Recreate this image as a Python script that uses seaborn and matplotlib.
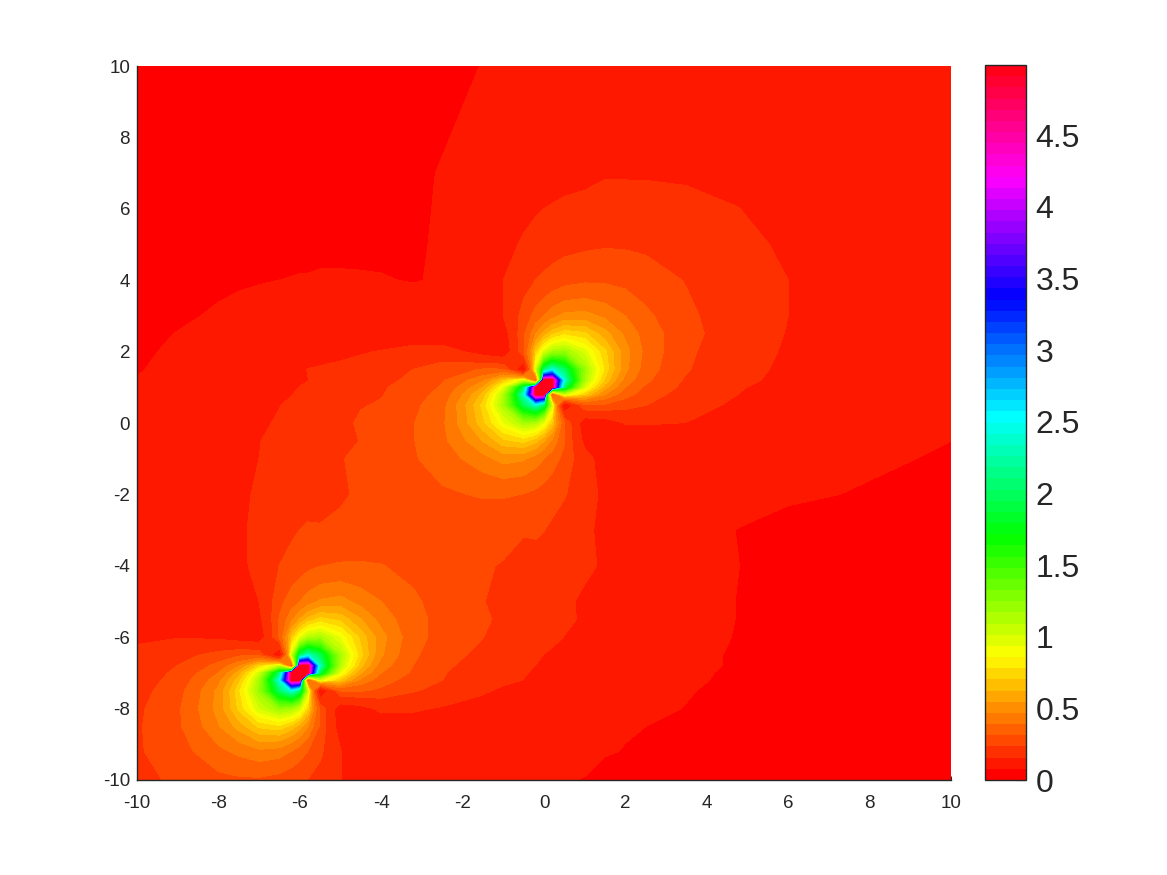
import numpy as np
import matplotlib
matplotlib.use('Agg')
import matplotlib.pyplot as plt
from matplotlib.cm import ScalarMappable
from matplotlib.colors import BoundaryNorm, ListedColormap
import seaborn as sns

# field values estimated by eye at these grid nodes (denser around the two poles)
x_nodes = [-10, -9, -8, -7.5, -7, -6.5, -6.2, -6, -5.8, -5.5, -5, -4.5, -4, -3.2, -2.5, -1.5, -1, -.5, -.2, 0, .2, .5, 1, 1.5, 2, 2.5, 3.5, 4.8, 6, 10]
y_nodes = [-10, -9.2, -8.5, -8, -7.5, -7.2, -7, -6.8, -6.5, -6, -5.5, -5, -4, -3, -2, -1, -.5, 0, .5, .8, 1, 1.2, 1.5, 2, 2.5, 3, 4, 5, 7, 10]
field_values = [
    [.21, .25, .29, .30, .30, .285, .265, .25, .232, .205, .16, .11, .09, .09, .09, .088, .088, .085, .083, .082, .081, .08, .077, .07, .065, .06, .055, .05, .048, .04],
    [.225, .28, .37, .41, .45, .43, .385, .35, .31, .25, .16, .10, .10, .10, .10, .10, .098, .095, .093, .092, .09, .088, .085, .08, .077, .072, .066, .06, .055, .043],
    [.225, .30, .46, .58, .72, .76, .67, .58, .47, .30, .125, .11, .12, .125, .13, .125, .125, .115, .11, .105, .10, .095, .09, .085, .08, .078, .073, .065, .06, .045],
    [.22, .30, .5, .72, 1, 1.2, 1.15, 1, .72, .30, .12, .135, .17, .165, .15, .13, .125, .12, .118, .115, .112, .108, .10, .095, .09, .085, .077, .067, .06, .047],
    [.205, .285, .49, .76, 1.2, 2, 2.41, 2, 1.03, .1, .32, .32, .295, .24, .21, .165, .145, .135, .13, .125, .12, .115, .105, .10, .095, .09, .08, .07, .062, .05],
    [.195, .265, .44, .67, 1.15, 2.41, 4.98, 4.98, .3, .97, .68, .45, .35, .275, .235, .18, .17, .155, .15, .14, .135, .125, .115, .105, .098, .092, .083, .072, .062, .05],
    [.19, .25, .39, .58, 1, 2, 4.98, 4.98, 4.98, 1.9, .92, .55, .39, .30, .24, .19, .175, .16, .15, .145, .14, .13, .12, .11, .10, .095, .085, .072, .063, .05],
    [.18, .235, .34, .46, .72, 1.03, .3, 4.98, 4.98, 2.3, 1.1, .65, .43, .31, .25, .2, .18, .165, .155, .15, .145, .135, .125, .115, .105, .098, .087, .074, .064, .05],
    [.165, .205, .265, .30, .30, .1, 1.0, 1.95, 2.35, 1.95, 1.15, .73, .48, .325, .265, .215, .19, .175, .165, .155, .15, .14, .13, .12, .11, .10, .085, .075, .065, .052],
    [.15, .153, .145, .13, .12, .32, .68, .92, 1.1, 1.15, .92, .68, .5, .34, .285, .235, .21, .19, .175, .17, .165, .155, .14, .125, .12, .105, .09, .076, .066, .055],
    [.125, .12, .12, .125, .14, .32, .45, .55, .65, .73, .68, .55, .44, .335, .29, .245, .22, .2, .185, .18, .175, .165, .15, .135, .125, .11, .09, .077, .067, .056],
    [.11, .11, .125, .13, .156, .29, .35, .39, .43, .48, .5, .44, .39, .325, .28, .235, .225, .205, .19, .185, .18, .165, .148, .135, .125, .115, .09, .077, .068, .058],
    [.105, .115, .13, .145, .17, .235, .265, .275, .295, .31, .32, .32, .315, .29, .26, .24, .23, .21, .205, .2, .195, .175, .165, .15, .135, .12, .095, .078, .069, .058],
    [.105, .115, .13, .15, .165, .2, .22, .235, .245, .24, .25, .26, .255, .25, .25, .26, .255, .24, .245, .235, .22, .2, .165, .145, .13, .12, .09, .077, .07, .06],
    [.103, .115, .133, .15, .16, .18, .19, .195, .2, .21, .225, .245, .25, .27, .30, .32, .32, .31, .295, .28, .265, .24, .19, .14, .128, .12, .105, .09, .082, .07],
    [.10, .11, .12, .14, .156, .17, .18, .19, .195, .208, .23, .25, .26, .305, .35, .44, .5, .48, .43, .39, .35, .29, .18, .13, .125, .12, .11, .095, .09, .075],
    [.095, .108, .125, .14, .155, .165, .175, .185, .19, .2, .225, .235, .26, .31, .37, .55, .68, .73, .65, .55, .45, .32, .14, .12, .125, .125, .12, .11, .098, .078],
    [.09, .105, .118, .13, .15, .16, .17, .18, .185, .195, .215, .245, .25, .31, .375, .68, .92, 1.15, 1.1, .92, .68, .32, .12, .125, .16, .16, .155, .13, .115, .08],
    [.09, .10, .115, .125, .14, .155, .162, .17, .175, .185, .205, .23, .24, .295, .365, .73, 1.15, 1.95, 2.35, 1.95, 1.0, .1, .30, .30, .265, .235, .18, .145, .125, .08],
    [.085, .097, .108, .12, .13, .147, .155, .162, .167, .177, .195, .22, .23, .28, .34, .65, 1.1, 2.35, 4.98, 4.98, .3, 1.0, .7, .47, .345, .275, .20, .155, .13, .082],
    [.082, .095, .105, .115, .122, .138, .15, .157, .162, .172, .19, .21, .225, .27, .32, .55, .92, 1.95, 4.98, 4.98, 4.98, 2, .97, .58, .39, .30, .215, .16, .135, .085],
    [.079, .09, .102, .112, .118, .127, .14, .15, .155, .165, .18, .20, .215, .25, .305, .45, .67, .97, .3, 4.98, 4.98, 2.4, 1.15, .68, .44, .33, .225, .17, .14, .086],
    [.076, .087, .098, .105, .112, .12, .126, .145, .158, .165, .178, .185, .20, .235, .27, .32, .32, .1, 1.0, 2, 2.41, 2, 1.2, .76, .49, .355, .24, .175, .145, .088],
    [.074, .082, .09, .095, .10, .105, .11, .113, .118, .125, .135, .15, .16, .185, .19, .13, .11, .30, .70, .97, 1.15, 1.2, .97, .72, .50, .37, .25, .18, .15, .09],
    [.07, .079, .086, .087, .09, .093, .095, .098, .10, .103, .107, .11, .112, .115, .11, .10, .125, .30, .47, .58, .68, .76, .72, .58, .45, .36, .26, .19, .153, .093],
    [.065, .073, .082, .085, .085, .09, .09, .09, .09, .09, .09, .09, .09, .09, .09, .09, .156, .265, .345, .39, .44, .49, .50, .45, .39, .33, .25, .19, .156, .095],
    [.06, .065, .072, .075, .077, .078, .079, .08, .08, .081, .081, .08, .079, .077, .08, .11, .156, .205, .235, .25, .265, .285, .30, .30, .29, .27, .23, .185, .156, .097],
    [.055, .057, .06, .063, .065, .068, .07, .07, .07, .072, .072, .073, .074, .076, .08, .11, .135, .165, .18, .19, .20, .21, .22, .227, .225, .22, .20, .175, .145, .098],
    [.045, .047, .05, .051, .052, .054, .055, .056, .056, .057, .058, .059, .06, .072, .08, .093, .105, .115, .125, .128, .13, .135, .14, .15, .15, .15, .148, .14, .125, .098],
    [.035, .037, .04, .042, .043, .045, .046, .047, .048, .049, .05, .052, .055, .062, .068, .079, .082, .087, .09, .092, .095, .097, .10, .103, .105, .108, .11, .108, .105, .09],
]
axis_ticks = [-10, -8, -6, -4, -2, 0, 2, 4, 6, 8, 10]
bar_ticks = [0, .5, 1, 1.5, 2, 2.5, 3, 3.5, 4, 4.5]
bar_labels = ['0', '0.5', '1', '1.5', '2', '2.5', '3', '3.5', '4', '4.5']
v_max = 4.99
n_colors = 64

sns.set_style('white')
plt.rcParams['font.family'] = ['Liberation Sans', 'DejaVu Sans']
plt.rcParams['axes.unicode_minus'] = False
ink = '#262626'

palette = sns.hls_palette(n_colors, h=0, l=.5, s=1)
edges = np.linspace(0, v_max, n_colors + 1)
W, H = 1167, 875

fig = plt.figure(figsize=(W / 100, H / 100), dpi=100)
ax = fig.add_axes([137 / W, 1 - 780 / H, 814 / W, 714 / H])

# contour the log so the 1/r falloff survives the coarse grid
log_edges = np.log(np.maximum(edges, 1e-3))
z = np.log(np.clip(np.array(field_values), 2e-3, v_max - .01))
ax.contourf(x_nodes, y_nodes, z, levels=log_edges, colors=palette, antialiased=False)

ax.set_xlim(-10, 10)
ax.set_ylim(-10, 10)
ax.set_xticks(axis_ticks)
ax.set_yticks(axis_ticks)
ax.tick_params(direction='in', length=3, width=.7, color=ink, labelcolor=ink, labelsize=13.5,
               bottom=True, left=True)
ax.tick_params(axis='x', pad=11)
ax.tick_params(axis='y', pad=5)
sns.despine(ax=ax)
for side in ['left', 'bottom']:
    ax.spines[side].set_color(ink)
    ax.spines[side].set_linewidth(1)

cax = fig.add_axes([985 / W, 1 - 780 / H, 41 / W, 715 / H])
mappable = ScalarMappable(norm=BoundaryNorm(edges, n_colors), cmap=ListedColormap(palette))
bar = fig.colorbar(mappable, cax=cax, spacing='proportional')
bar.set_ticks(bar_ticks)
bar.set_ticklabels(bar_labels)
bar.minorticks_off()
bar.outline.set_edgecolor(ink)
bar.outline.set_linewidth(1)
cax.tick_params(direction='in', length=7, width=.8, color=ink, labelcolor=ink, labelsize=23, pad=7)

fig.savefig('out.png', dpi=100)
